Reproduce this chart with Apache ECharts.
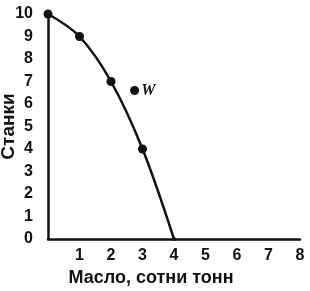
<!DOCTYPE html>
<html><head><meta charset="utf-8">
<script src="https://cdn.jsdelivr.net/npm/echarts@6/dist/echarts.min.js"></script>
<style>html,body{margin:0;padding:0;background:#fff}#c{width:310px;height:291px}</style>
</head><body><div id="c"></div>
<script>
var butter = [0, 1, 2, 3, 4];
var tanks = [10, 9, 7, 4, 0];
var pointW = [2.75, 6.6];
var labelW = 'W';
var xTitle = 'Масло, сотни тонн';
var yTitle = 'Станки';

var chart = echarts.init(document.getElementById('c'), null, {renderer: 'canvas'});
var font = 'Liberation Sans, Arial, sans-serif';
chart.setOption({
  animation: false,
  grid: {left: 48, right: 10, top: 14, bottom: 52, containLabel: false, outerBoundsMode: 'none'},
  xAxis: {
    type: 'value', min: 0, max: 8, interval: 1,
    axisLine: {show: true, lineStyle: {color: '#111', width: 2.5}},
    axisTick: {show: false}, splitLine: {show: false},
    axisLabel: {color: '#111', fontFamily: font, fontWeight: 'bold', fontSize: 16, margin: 9, showMinLabel: false},
    name: xTitle, nameLocation: 'middle', nameGap: 30, nameMoveOverlap: false,
    nameTextStyle: {color: '#111', fontFamily: font, fontWeight: 'bold', fontSize: 18, padding: [0, 46, 0, 0]}
  },
  yAxis: {
    type: 'value', min: 0, max: 10, interval: 1,
    axisLine: {show: true, lineStyle: {color: '#111', width: 2.5}},
    axisTick: {show: false}, splitLine: {show: false},
    axisLabel: {color: '#111', fontFamily: font, fontWeight: 'bold', fontSize: 16, margin: 15},
    name: yTitle, nameLocation: 'middle', nameGap: 30, nameMoveOverlap: false,
    nameTextStyle: {color: '#111', fontFamily: font, fontWeight: 'bold', fontSize: 19}
  },
  series: [{
    type: 'line',
    data: butter.map(function (b, i) { return [b, tanks[i]]; }),
    smooth: 0.35,
    symbol: 'circle', symbolSize: function (v) { return v[1] === 0 ? 4 : 9; },
    lineStyle: {color: '#111', width: 2.5},
    itemStyle: {color: '#111'}
  }, {
    type: 'scatter',
    data: [pointW],
    symbol: 'circle', symbolSize: 9,
    itemStyle: {color: '#111', opacity: 1},
    label: {show: true, position: 'right', distance: 2, formatter: labelW,
      color: '#111', fontFamily: 'Liberation Serif, Times New Roman, serif',
      fontStyle: 'italic', fontWeight: 'bold', fontSize: 16}
  }]
});
</script></body></html>
